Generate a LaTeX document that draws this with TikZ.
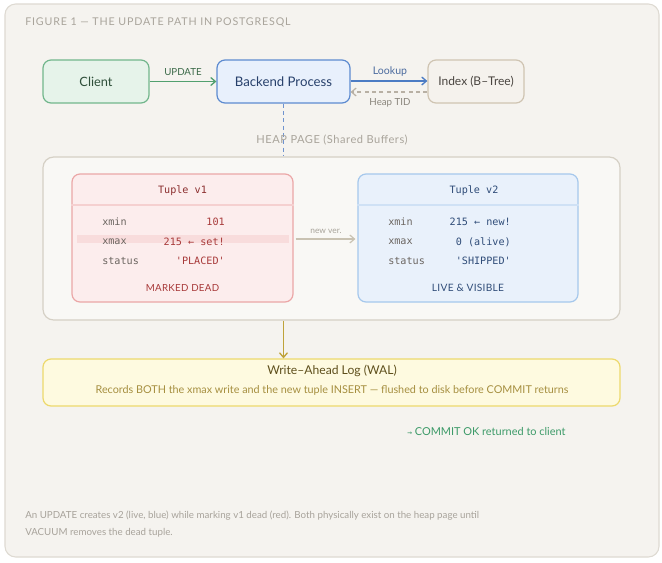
\documentclass[tikz,border=0pt]{standalone}
\usepackage{fontspec}
\setmainfont{Lato}
\newfontfamily\monof{DejaVu Sans Mono}
\usetikzlibrary{arrows.meta,calc}
\definecolor{pagebg}{HTML}{F5F3EF}
\definecolor{pageln}{HTML}{DEDAD2}
\definecolor{heapbg}{HTML}{F9F8F5}
\definecolor{heapln}{HTML}{D5D0C5}
\definecolor{ttl}{HTML}{A9A49B}
\definecolor{cfill}{HTML}{E6F3EA}
\definecolor{cline}{HTML}{72B68C}
\definecolor{ctext}{HTML}{2F4F3A}
\definecolor{updarr}{HTML}{52A06F}
\definecolor{updtxt}{HTML}{3D6B4A}
\definecolor{bfill}{HTML}{E8F0FC}
\definecolor{bline}{HTML}{5D8BD0}
\definecolor{btext}{HTML}{27406B}
\definecolor{lkarr}{HTML}{4C7CC4}
\definecolor{lktxt}{HTML}{4A6A9E}
\definecolor{ifill}{HTML}{F5F2ED}
\definecolor{iline}{HTML}{CFC4B2}
\definecolor{itext}{HTML}{4A4540}
\definecolor{tidarr}{HTML}{B8B0A4}
\definecolor{tidtxt}{HTML}{8A857C}
\definecolor{vdash}{HTML}{6F93CF}
\definecolor{rfill}{HTML}{FCEDED}
\definecolor{rline}{HTML}{EBA7A7}
\definecolor{rsep}{HTML}{F5D0D0}
\definecolor{rtitle}{HTML}{8B2E2E}
\definecolor{rval}{HTML}{A83A3A}
\definecolor{rband}{HTML}{F8DCDC}
\definecolor{fld}{HTML}{6B6560}
\definecolor{vfill}{HTML}{E9F1FB}
\definecolor{vline}{HTML}{A6C8EC}
\definecolor{vsep}{HTML}{CFE1F5}
\definecolor{vtitle}{HTML}{2F4C78}
\definecolor{nvarr}{HTML}{C9C2B2}
\definecolor{nvtxt}{HTML}{A8A39A}
\definecolor{walarr}{HTML}{BFA33A}
\definecolor{wfill}{HTML}{FEFAE0}
\definecolor{wline}{HTML}{EDD96C}
\definecolor{wtitle}{HTML}{5E4F1C}
\definecolor{wsub}{HTML}{A68F40}
\definecolor{okgreen}{HTML}{3C9A68}
\definecolor{capt}{HTML}{A8A39B}
\tikzset{
  box/.style={draw, rounded corners=6pt, line width=0.9pt, inner sep=0pt, align=center},
  arr/.style={-{Straight Barb[length=3.5pt,width=6pt]}, line width=1pt},
  lbl/.style={font=\fontsize{7.3}{8}\selectfont, inner sep=0pt},
  mono/.style={font=\monof\fontsize{7.6}{9}\selectfont, inner sep=0pt},
  fldl/.style={mono, text=fld, anchor=west},
}
\begin{document}
\begin{tikzpicture}[x=0.75pt,y=-0.75pt]
\useasboundingbox (0,0) rectangle (662,562);
\fill[white] (0,0) rectangle (662,562);
\draw[pageln, fill=pagebg, line width=0.8pt, rounded corners=8pt] (5,4) rectangle (659,557);
\node[anchor=west, text=ttl, inner sep=0pt, font=\fontsize{8}{9}\selectfont\addfontfeatures{LetterSpace=8}] (title) at (25,22) {FIGURE 1 — THE UPDATE PATH IN POSTGRESQL};

% top row
\node[box, fill=cfill, draw=cline, text=ctext, minimum width=79.5pt, minimum height=32.25pt, font=\fontsize{9.6}{11}\selectfont] (client) at (96,81.5) {Client};
\node[box, fill=bfill, draw=bline, text=btext, minimum width=99.75pt, minimum height=32.25pt, font=\fontsize{9.9}{11}\selectfont] (backend) at (283.5,81.5) {Backend Process};
\node[box, fill=ifill, draw=iline, text=itext, minimum width=72pt, minimum height=32.25pt, font=\fontsize{9}{11}\selectfont] (index) at (476,81.5) {Index (B–Tree)};

\draw[arr, updarr] (client.east) -- (backend.west);
\node[lbl, text=updtxt] (updl) at (183,72) {UPDATE};
\draw[arr, lkarr] ($(backend.east)+(0,-0.5)$) -- ($(index.west)+(0,-0.5)$);
\node[lbl, text=lktxt, font=\fontsize{7.9}{9}\selectfont] (lkl) at (390,72) {Lookup};
\draw[arr, tidarr, dashed, dash pattern=on 3pt off 2.5pt, line width=0.9pt] ($(index.west)+(0,10.5)$) -- ($(backend.east)+(0,10.5)$);
\node[lbl, text=tidtxt] (tidl) at (390,103) {Heap TID};

% heap page
\node[box, fill=heapbg, draw=heapln, minimum width=432.75pt, minimum height=122.25pt, rounded corners=8pt] (heap) at (331.5,238.5) {};
\draw[vdash, dashed, dash pattern=on 3pt off 2.5pt, line width=0.9pt] (backend.south) -- (backend.south |- heap.north);
\node[lbl, text=ttl, font=\fontsize{8.3}{9}\selectfont\addfontfeatures{LetterSpace=5}] (heapl) at (332,140) {HEAP PAGE (Shared Buffers)};

% tuple v1
\node[box, fill=rfill, draw=rline, minimum width=165.75pt, minimum height=96pt] (v1) at (182.5,238) {};
\draw[rsep, line width=0.9pt] (v1.west |- 0,205) -- (v1.east |- 0,205);
\node[mono, text=rtitle] (v1t) at (v1.center |- 0,191) {Tuple v1};
\fill[rband] (77,235) rectangle (289,243);
\node[fldl] (v1a) at (102,222) {xmin};
\node[fldl] (v1b) at (102,242) {xmax};
\node[fldl] (v1c) at (102,261) {status};
\node[mono, text=rval, anchor=east] (v1av) at (225,222) {101};
\node[mono, text=rval, anchor=east] (v1bv) at (225,242) {215 ← set!};
\node[mono, text=rval, anchor=east] (v1cv) at (225,261) {'PLACED'};
\node[lbl, text=rval, font=\fontsize{7.3}{8}\selectfont\addfontfeatures{LetterSpace=3}] (v1f) at (v1.center |- 0,288) {MARKED DEAD};

% tuple v2
\node[box, fill=vfill, draw=vline, minimum width=165pt, minimum height=96pt] (v2) at (468,238) {};
\draw[vsep, line width=0.9pt] (v2.west |- 0,205) -- (v2.east |- 0,205);
\node[mono, text=vtitle] (v2t) at (474,191) {Tuple v2};
\node[fldl] (v2a) at (388,222) {xmin};
\node[fldl] (v2b) at (388,242) {xmax};
\node[fldl] (v2c) at (388,261) {status};
\node[mono, text=vtitle, anchor=east] (v2av) at (511,222) {215 ← new!};
\node[mono, text=vtitle, anchor=east] (v2bv) at (511,242) {0 (alive)};
\node[mono, text=vtitle, anchor=east] (v2cv) at (511,261) {'SHIPPED'};
\node[lbl, text=vtitle, font=\fontsize{7.6}{8}\selectfont\addfontfeatures{LetterSpace=3}] (v2f) at (468,288) {LIVE \& VISIBLE};

\draw[arr, nvarr, line width=0.9pt] ($(v1.east)+(2,1)$) -- ($(v2.west)+(-2,1)$);
\node[lbl, text=nvtxt, font=\fontsize{6.3}{7}\selectfont] (nvl) at (326,231) {new ver.};

% WAL
\node[box, fill=wfill, draw=wline, minimum width=432.75pt, minimum height=35.25pt] (wal) at (331.5,382.5) {};
\draw[arr, walarr] (heap.south -| backend.south) -- (wal.north -| backend.south);
\node[font=\fontsize{9.1}{10}\selectfont, text=wtitle, inner sep=0pt] (walt) at (332,371) {Write–Ahead Log (WAL)};
\node[lbl, text=wsub, font=\fontsize{8.1}{9}\selectfont] (wals) at (332,390) {Records BOTH the xmax write and the new tuple INSERT — flushed to disk before COMMIT returns};

\node[lbl, text=okgreen, anchor=west, font=\fontsize{8.2}{9}\selectfont] (ok) at (407,432) {{\monof\fontsize{6}{7}\selectfont →} COMMIT OK returned to client};

\node[lbl, text=capt, anchor=west, align=left, font=\fontsize{7.3}{12.8}\selectfont] (cap) at (25,524.5) {An UPDATE creates v2 (live, blue) while marking v1 dead (red). Both physically exist on the heap page until\\VACUUM removes the dead tuple.};
\end{tikzpicture}
\end{document}
